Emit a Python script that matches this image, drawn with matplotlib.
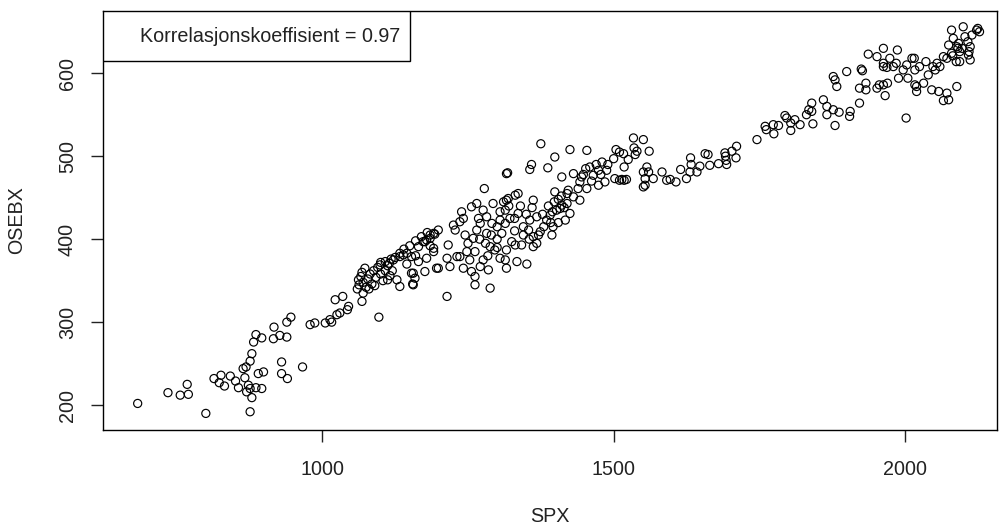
import matplotlib.pyplot as plt
from matplotlib.patches import Rectangle

plt.rcParams['font.family'] = ['Liberation Sans', 'DejaVu Sans']

# SPX / OSEBX pairs, split by region
spx_low = [683, 735, 756, 770, 768, 800, 814, 826, 823, 832, 842, 851, 856, 867, 864,
           869, 876, 879, 882, 873, 876, 870, 879, 876, 886, 896, 890, 899, 930, 930,
           940, 966, 946, 939, 917, 916, 927, 939, 886, 896, 979, 987, 1005, 1013, 1016,
           1025, 1030, 1043, 1045, 1022, 1035, 1097, 1068, 1070]
osebx_low = [202, 215, 212, 213, 225, 190, 232, 236, 227, 223, 235, 229, 221, 233, 244,
             246, 253, 262, 276, 224, 220, 216, 209, 192, 221, 220, 238, 240, 252, 238,
             232, 246, 306, 300, 294, 280, 284, 282, 285, 281, 297, 299, 299, 303, 300,
             309, 311, 315, 319, 327, 331, 306, 325, 335]

spx_mid = [1062, 1073, 1063, 1066, 1070, 1075, 1078, 1082, 1085, 1088, 1092, 1095, 1100, 1104,
           1108, 1112, 1116, 1120, 1068, 1080, 1090, 1100, 1060, 1099, 1108, 1115, 1122, 1133,
           1145, 1128, 1133, 1112, 1153, 1159, 1155, 1165, 1176, 1179, 1191, 1196, 1165, 1176,
           1185, 1193, 1216, 1214, 1214, 1219, 1228, 1231, 1316, 1278, 1239, 1236, 1242, 1225,
           1199, 1191, 1185, 1179, 1173, 1191, 1139, 1133, 1125, 1118, 1145, 1153, 1156, 1156,
           1199, 1236, 1248, 1253, 1242, 1256, 1262, 1262, 1271, 1276, 1285, 1288, 1288, 1296,
           1282, 1271, 1265, 1259, 1256, 1265, 1276, 1282, 1291, 1293, 1314, 1305, 1311, 1319,
           1331, 1336, 1314, 1308, 1325, 1316, 1314, 1305, 1316, 1334, 1331, 1351,
           1140, 1150, 1160, 1170, 1180, 1160, 1185,
           1250, 1262, 1270, 1280, 1290, 1300, 1245, 1268, 1284]
osebx_mid = [351, 365, 345, 355, 348, 342, 352, 358, 346, 362, 354, 366, 358, 350,
             362, 368, 356, 362, 360, 340, 344, 372, 340, 369, 373, 371, 375, 379,
             383, 351, 343, 351, 359, 353, 346, 373, 361, 377, 385, 365, 391, 397,
             405, 406, 393, 331, 377, 367, 411, 379, 479, 461, 433, 421, 425, 417,
             411, 407, 401, 399, 397, 389, 381, 383, 378, 376, 370, 379, 359, 345,
             365, 379, 385, 375, 365, 361, 355, 345, 367, 375, 363, 341, 391, 387,
             407, 419, 411, 401, 439, 443, 435, 427, 419, 443, 435, 433, 445, 449,
             453, 455, 419, 407, 397, 387, 375, 377, 365, 373, 393, 370,
             388, 392, 398, 403, 408, 380, 392,
             395, 385, 400, 395, 405, 390, 405, 425, 380]

spx_high = [1375, 1425, 1454, 1359, 1356, 1318, 1399, 1387, 1411, 1504, 1510, 1534, 1535, 1540,
            1517, 1500, 1480, 1459, 1474, 1465, 1488, 1510, 1514, 1518, 1522, 1502, 1485, 1474,
            1454, 1442, 1431, 1448, 1439, 1422, 1399, 1411, 1415, 1420, 1431, 1442, 1402, 1391,
            1385, 1362, 1316, 1336, 1330, 1305, 1356, 1368, 1374, 1371, 1394, 1362, 1354, 1345,
            1362, 1342, 1425, 1417, 1408, 1396, 1405,
            1300, 1322, 1340, 1350, 1360, 1378, 1388, 1398, 1405, 1410, 1420, 1345, 1355, 1368,
            1380, 1392, 1300, 1320, 1330, 1395, 1445, 1462, 1470, 1452, 1478, 1490,
            1551, 1537, 1561, 1525, 1518, 1557, 1551, 1560, 1554, 1551, 1554, 1568, 1583, 1591,
            1597, 1607, 1615, 1625, 1631, 1633, 1632, 1643, 1648, 1657, 1662, 1665, 1680, 1691,
            1693, 1692, 1694, 1703, 1711, 1710, 1746, 1760, 1762, 1774, 1775, 1783, 1794, 1797,
            1804, 1804, 1811, 1820, 1831, 1840, 1840, 1842, 1835]
osebx_high = [515, 508, 507, 490, 484, 480, 499, 486, 475, 508, 505, 522, 510, 506,
              503, 497, 493, 487, 483, 477, 483, 471, 472, 471, 472, 473, 469, 465,
              461, 469, 479, 478, 461, 459, 457, 441, 438, 443, 451, 447, 435, 429,
              423, 447, 447, 431, 425, 423, 423, 427, 409, 405, 405, 403, 411, 405,
              391, 393, 431, 423, 437, 415, 420,
              415, 425, 440, 430, 438, 430, 440, 445, 448, 452, 455, 415, 400, 395,
              415, 420, 400, 440, 410, 433, 475, 470, 490, 485, 478, 490,
              520, 502, 506, 496, 487, 487, 481, 481, 473, 463, 465, 473, 481, 471,
              472, 469, 484, 473, 481, 490, 498, 481, 488, 503, 502, 489, 491, 504,
              495, 500, 490, 506, 512, 498, 520, 536, 532, 538, 527, 537, 549, 546,
              540, 531, 544, 538, 550, 564, 554, 539, 556]

spx_top = [1860, 1866, 1866, 1877, 1887, 1880, 1906, 1905, 1922, 1877, 1880, 1883, 1900, 1925,
           1927, 1922, 1933, 1933, 1937, 1952, 1963, 1963, 1963, 1952, 1956, 1963, 1970, 1966,
           1974, 1987, 1980, 1985, 1969, 1989, 2002, 1997, 2003, 2012, 2016, 2017, 2017, 2005,
           2020, 2020, 2025, 2032, 2036, 2040, 2046, 2048, 2052, 2055, 2058, 2060, 2066, 2072,
           2066, 2075, 2072, 2080, 2082, 2075, 2080, 2083, 2089, 2091, 2089, 2092, 2094, 2100,
           2103, 2109, 2110, 2112, 2112, 2115, 2123, 2128, 2125, 2094, 2088, 2108, 2098]
osebx_top = [568, 560, 550, 556, 553, 537, 554, 548, 564, 596, 592, 584, 602, 605,
             603, 582, 588, 580, 623, 620, 630, 612, 608, 582, 586, 586, 588, 573,
             618, 628, 608, 612, 607, 594, 546, 604, 610, 618, 618, 604, 586, 594,
             584, 578, 608, 588, 614, 598, 580, 608, 604, 612, 578, 608, 620, 576,
             567, 568, 618, 624, 621, 634, 652, 642, 632, 630, 584, 636, 626, 656,
             644, 622, 626, 616, 632, 646, 652, 650, 654, 614, 614, 638, 630]

spx = spx_low + spx_mid + spx_high + spx_top
osebx = osebx_low + osebx_mid + osebx_high + osebx_top

fig = plt.figure(figsize=(10.02, 5.27), dpi=100)
W, H = 1002, 527
ax = fig.add_axes([103.3 / W, (H - 430) / H, (997 - 103.3) / W, (430 - 11) / H])

ax.scatter(spx, osebx, s=34, facecolors='none', edgecolors='black', linewidths=0.85)

ax.set_xlim(624, 2158)
ax.set_ylim(170, 675)
ax.set_xticks([1000, 1500, 2000])
ax.set_yticks([200, 300, 400, 500, 600])

fs = 14.2
for sp in ax.spines.values():
    sp.set_linewidth(1.0)
ax.tick_params(axis='both', length=8.6, width=1.0, labelsize=fs, colors='#222222')
ax.tick_params(axis='x', pad=13)
ax.tick_params(axis='y', pad=10.5, labelrotation=90)
for t in ax.get_yticklabels():
    t.set_va('center')

ax.set_xlabel('SPX', fontsize=fs, color='#222222')
ax.xaxis.set_label_coords(0.5, -0.183)
ax.set_ylabel('OSEBX', fontsize=fs, color='#222222')
ax.yaxis.set_label_coords(-0.086, 0.5)

# legend box with the correlation text
x0 = 0.0
x1 = (410 - 103.3) / (997 - 103.3)
y0 = (430 - 61) / (430 - 11)
ax.add_patch(Rectangle((x0, y0), x1 - x0, 1 - y0, transform=ax.transAxes,
                       facecolor='white', edgecolor='black', linewidth=1.0, zorder=3))
ax.text((140 - 103.3) / (997 - 103.3), (430 - 37) / (430 - 11),
        'Korrelasjonskoeffisient = 0.97', transform=ax.transAxes,
        ha='left', va='center', fontsize=fs, color='#222222', zorder=4)

fig.savefig('out.png', dpi=100)
